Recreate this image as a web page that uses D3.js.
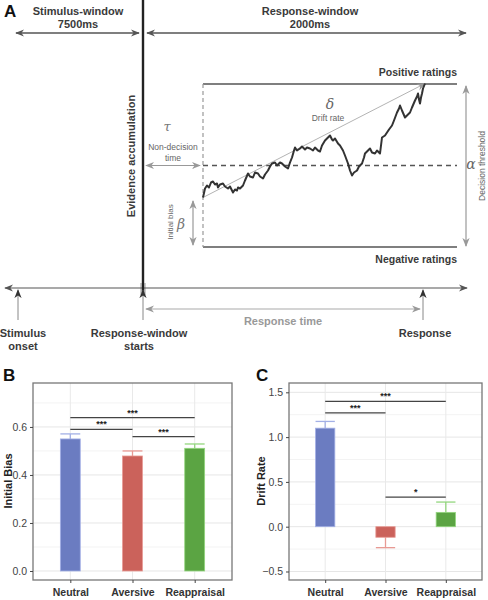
<!DOCTYPE html>
<html><head><meta charset="utf-8">
<script src="https://cdn.jsdelivr.net/npm/d3@7"></script>
<style>
body{margin:0;background:#fff;}
svg{display:block;font-family:"Liberation Sans",Arial,sans-serif;}
</style></head><body>
<svg id="c" width="488" height="600"></svg>
<script>
// ---------- DATA ----------
const categories = ["Neutral","Aversive","Reappraisal"];
const biasValues = [0.55, 0.479, 0.511];
const biasErrors = [0.571, 0.50, 0.529];
const driftValues = [1.10, -0.118, 0.16];
const driftErrors = [1.175, -0.234, 0.275];
const biasTicks = [0.0, 0.2, 0.4, 0.6];
const driftTicks = [-0.5, 0.0, 0.5, 1.0, 1.5];
const biasSig = [[0,2,0.639,"***"],[0,1,0.59,"***"],[1,2,0.56,"***"]];
const driftSig = [[0,2,1.40,"***"],[0,1,1.27,"***"],[1,2,0.33,"*"]];
const colors = ["#6b7cc1","#cb625b","#5ba443"];
const errColors = ["#a3b0e6","#e89a94","#93d67e"];
// random walk: [decision time (0..222), evidence relative to midline (-81..82)]
const walk = [[0,-32],[2,-23],[4,-20],[6,-22],[8,-17],[10,-16],[12,-19],[14,-18],[15,-22],[17,-19],[20,-18],[22,-21],[25,-23],[27,-21],[30,-27],[32,-24],[34,-25],[35,-22],[37,-23],[40,-20],[42,-15],[45,-8],[47,-11],[50,-12],[52,-7],[55,-8],[57,-11],[60,-13],[62,-9],[65,-5],[67,-1],[69,2],[72,3],[74,0],[77,3],[79,2],[82,-1],[85,-3],[87,3],[89,8],[91,15],[92,18],[94,15],[97,17],[99,19],[102,16],[104,18],[107,17],[110,15],[112,18],[115,15],[117,14],[119,20],[122,25],[124,27],[127,30],[129,26],[130,25],[132,27],[135,22],[137,20],[140,15],[142,10],[145,2],[147,-5],[149,-10],[151,-7],[154,-5],[156,-1],[159,2],[161,8],[162,12],[164,14],[167,17],[169,13],[172,12],[174,15],[177,12],[178,20],[179,28],[182,30],[184,33],[186,36],[189,40],[191,45],[194,53],[196,57],[197,60],[199,55],[202,48],[204,50],[207,53],[209,58],[212,65],[214,69],[215,72],[216,66],[217,62],[218,68],[219,72],[220,77],[222,82]];
const driftLine = [[0,-32],[222,82]];

const svg = d3.select("#c");
const FONT = '"Liberation Sans",Arial,sans-serif';
const SERIF = '"DejaVu Serif","Liberation Serif",serif';

// markers
const defs = svg.append("defs");
function mk(id, col){
  defs.append("marker").attr("id",id).attr("viewBox","0 0 10 10").attr("refX",9).attr("refY",5)
    .attr("markerWidth",9).attr("markerHeight",9).attr("markerUnits","userSpaceOnUse").attr("orient","auto-start-reverse")
    .append("path").attr("d","M0,1 L10,5 L0,9 L3,5 Z").attr("fill",col);
}
mk("ad","#555"); mk("ag","#999"); mk("ak","#333");

function line(x1,y1,x2,y2,col,w,opts={}){
  const l = svg.append("line").attr("x1",x1).attr("y1",y1).attr("x2",x2).attr("y2",y2)
    .attr("stroke",col).attr("stroke-width",w);
  if(opts.dash) l.attr("stroke-dasharray",opts.dash);
  if(opts.start) l.attr("marker-start",`url(#${opts.start})`);
  if(opts.end) l.attr("marker-end",`url(#${opts.end})`);
  return l;
}
function text(x,y,s,o={}){
  const t = svg.append("text").attr("x",x).attr("y",y).text(s)
    .attr("font-family",o.family||FONT).attr("font-size",o.size||11)
    .attr("font-weight",o.weight||"normal").attr("fill",o.fill||"#3a3a3a")
    .attr("text-anchor",o.anchor||"middle");
  if(o.italic) t.attr("font-style","italic");
  if(o.rot) t.attr("transform",`rotate(${o.rot},${x},${y})`);
  return t;
}

// ---------- PANEL A ----------
text(4,17,"A",{size:17,weight:"bold",anchor:"start",fill:"#111"});
text(78,15,"Stimulus-window",{weight:"bold",size:11});
text(78,28,"7500ms",{weight:"bold",size:11});
text(310,15,"Response-window",{weight:"bold",size:11});
text(310,28,"2000ms",{weight:"bold",size:11});
line(16,33,139,33,"#555",1.6,{start:"ad",end:"ad"});
line(147,33,466,33,"#555",1.6,{start:"ad",end:"ad"});

// evidence scales
const xD = d3.scaleLinear().domain([0,222]).range([203,425]);
const yE = d3.scaleLinear().domain([-81.5,81.5]).range([247,84]);

// thresholds
line(xD(0),yE(81.5),457,yE(81.5),"#555",1.5);
line(xD(0),yE(-81.5),457,yE(-81.5),"#555",1.5);
line(xD(0),yE(81.5),xD(0),yE(-81.5),"#999",1.2,{dash:"4,3"});
line(xD(0),yE(0),457,yE(0),"#555",1.3,{dash:"5,4"});
text(457,76,"Positive ratings",{weight:"bold",size:10.5,anchor:"end"});
text(457,263,"Negative ratings",{weight:"bold",size:10.5,anchor:"end"});

// drift line & walk
svg.append("path").datum(driftLine).attr("d",d3.line().x(d=>xD(d[0])).y(d=>yE(d[1])))
  .attr("stroke","#aaa").attr("stroke-width",0.9).attr("fill","none").attr("marker-end","url(#ag)");
svg.append("path").datum(walk).attr("d",d3.line().x(d=>xD(d[0])).y(d=>yE(d[1])))
  .attr("stroke","#333").attr("stroke-width",2).attr("fill","none").attr("stroke-linejoin","round");
text(330,109,"δ",{family:SERIF,italic:true,size:14,fill:"#666"});
text(328,121,"Drift rate",{size:8.5,fill:"#666"});

// alpha
line(466,246,466,86,"#999",1.2,{start:"ag",end:"ag"});
text(471,169,"α",{family:SERIF,italic:true,size:14,fill:"#666",anchor:"middle"});
text(485,166,"Decision threshold",{size:8.5,fill:"#666",rot:-90});

// tau
line(146,yE(0),200,yE(0),"#999",1.2,{start:"ag",end:"ag"});
text(167,131,"τ",{family:SERIF,italic:true,size:13,fill:"#777"});
text(173,150,"Non-decision",{size:8.5,fill:"#666"});
text(173,161,"time",{size:8.5,fill:"#666"});

// beta
line(193,201,193,245,"#999",1.2,{start:"ag",end:"ag"});
text(173,222,"Initial bias",{size:8,fill:"#666",rot:-90});
text(181,229,"β",{family:SERIF,italic:true,size:14,fill:"#777"});

// evidence axis
text(135,156,"Evidence accumulation",{weight:"bold",size:11,rot:-90});

// timeline
svg.append("rect").attr("x",140).attr("y",283).attr("width",6).attr("height",12).attr("fill","#ccc");
line(5,288,467,288,"#555",1.2,{start:"ad",end:"ad"});
line(143,0,143,293,"#222",2.4);
[18,143,423].forEach(x=>line(x,320,x,290,"#888",1,{end:"ak"}));
line(146,309,420,309,"#aaa",1.2,{start:"ag",end:"ag"});
text(283,325,"Response time",{weight:"bold",size:11,fill:"#999"});
text(23,337,"Stimulus",{weight:"bold",size:11});
text(23,350,"onset",{weight:"bold",size:11});
text(139,337,"Response-window",{weight:"bold",size:11});
text(139,350,"starts",{weight:"bold",size:11});
text(425,337,"Response",{weight:"bold",size:11});

// ---------- BAR PANELS ----------
function barPanel(o){
  const g = svg.append("g");
  const x = d3.scaleLinear().domain([0.4,3.6]).range([o.left,o.right]);
  const y = d3.scaleLinear().domain(o.ydom).range([580,383]);
  const bw = x(0.32)-x(0);
  // grid
  o.minor.forEach(v=>g.append("line").attr("x1",o.left).attr("x2",o.right).attr("y1",y(v)).attr("y2",y(v)).attr("stroke","#f3f3f3").attr("stroke-width",1));
  o.ticks.forEach(v=>g.append("line").attr("x1",o.left).attr("x2",o.right).attr("y1",y(v)).attr("y2",y(v)).attr("stroke","#e6e6e6").attr("stroke-width",1));
  categories.forEach((c,i)=>g.append("line").attr("x1",x(i+1)).attr("x2",x(i+1)).attr("y1",383).attr("y2",580).attr("stroke","#e9e9e9").attr("stroke-width",1));
  // error bars
  categories.forEach((c,i)=>{
    const cx=x(i+1);
    g.append("line").attr("x1",cx).attr("x2",cx).attr("y1",y(o.vals[i])).attr("y2",y(o.errs[i])).attr("stroke",errColors[i]).attr("stroke-width",1.3);
    g.append("line").attr("x1",cx-bw/2).attr("x2",cx+bw/2).attr("y1",y(o.errs[i])).attr("y2",y(o.errs[i])).attr("stroke",errColors[i]).attr("stroke-width",1.3);
  });
  // bars
  g.selectAll("rect.bar").data(o.vals).join("rect")
    .attr("x",(d,i)=>x(i+1)-bw/2).attr("width",bw)
    .attr("y",d=>y(Math.max(0,d))).attr("height",d=>Math.abs(y(d)-y(0)))
    .attr("fill",(d,i)=>colors[i]).attr("stroke",(d,i)=>errColors[i]).attr("stroke-width",0.8);
  // significance
  o.sig.forEach(s=>{
    g.append("line").attr("x1",x(s[0]+1)).attr("x2",x(s[1]+1)).attr("y1",y(s[2])).attr("y2",y(s[2])).attr("stroke","#444").attr("stroke-width",1.2);
    g.append("text").attr("x",(x(s[0]+1)+x(s[1]+1))/2).attr("y",y(s[2])-2).attr("text-anchor","middle")
      .attr("font-size",9).attr("font-weight","bold").attr("fill","#222").attr("font-family",FONT).text(s[3]);
  });
  // border
  g.append("rect").attr("x",o.left).attr("y",383).attr("width",o.right-o.left).attr("height",197)
    .attr("fill","none").attr("stroke","#777").attr("stroke-width",1.3);
  // axes
  const ya = g.append("g").attr("transform",`translate(${o.left},0)`)
    .call(d3.axisLeft(y).tickValues(o.ticks).tickFormat(d3.format(".1f")).tickSize(3).tickPadding(3));
  ya.select(".domain").remove();
  ya.selectAll("line").attr("stroke","#444");
  ya.selectAll("text").attr("font-size",10.5).attr("fill","#444").attr("font-family",FONT);
  const xa = g.append("g").attr("transform",`translate(0,580)`)
    .call(d3.axisBottom(x).tickValues([1,2,3]).tickFormat(d=>categories[d-1]).tickSize(3).tickPadding(6));
  xa.select(".domain").remove();
  xa.selectAll("line").attr("stroke","#444");
  xa.selectAll("text").attr("font-size",10.5).attr("font-weight","bold").attr("fill","#333").attr("font-family",FONT);
  text(o.labX,481,o.label,{weight:"bold",size:11,rot:-90,fill:"#222"});
  text(o.letterX,381,o.letter,{size:17,weight:"bold",anchor:"start",fill:"#111"});
}
barPanel({left:33,right:232,ydom:[-0.0375,0.783],vals:biasValues,errs:biasErrors,ticks:biasTicks,
  minor:[0.1,0.3,0.5,0.7],sig:biasSig,label:"Initial Bias",labX:12,letter:"B",letterX:3});
barPanel({left:289,right:482,ydom:[-0.595,1.604],vals:driftValues,errs:driftErrors,ticks:driftTicks,
  minor:[-0.25,0.25,0.75,1.25],sig:driftSig,label:"Drift Rate",labX:265,letter:"C",letterX:256});
</script></body></html>
